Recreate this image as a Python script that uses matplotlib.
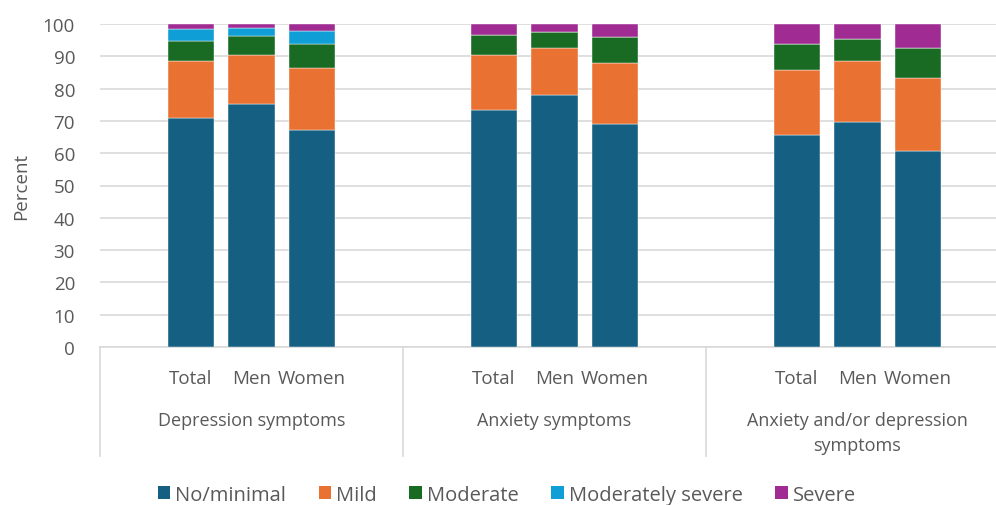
import matplotlib
matplotlib.use('Agg')
import matplotlib.pyplot as plt
from matplotlib.patches import Patch
from matplotlib.lines import Line2D

plt.rcParams['font.family'] = ['Open Sans', 'DejaVu Sans']

groups = ['Depression symptoms', 'Anxiety symptoms', 'Anxiety and/or depression\nsymptoms']
subgroups = ['Total', 'Men', 'Women']
levels = ['No/minimal', 'Mild', 'Moderate', 'Moderately severe', 'Severe']
colors = ['#156082', '#E97132', '#196B24', '#0F9ED5', '#A02B93']

# percent in each level, order: Total, Men, Women for each group
no_minimal = [71.0, 75.3, 67.3, 73.5, 78.1, 68.9, 65.6, 69.8, 60.7]
mild = [17.5, 15.2, 19.0, 17.0, 14.4, 19.1, 20.3, 18.6, 22.7]
moderate = [6.1, 5.8, 7.5, 6.0, 5.0, 7.9, 7.8, 7.1, 9.1]
mod_severe = [3.8, 2.5, 4.1, 0, 0, 0, 0, 0, 0]
severe = [1.6, 1.2, 2.1, 3.5, 2.5, 4.1, 6.3, 4.5, 7.5]

series = [no_minimal, mild, moderate, mod_severe, severe]

# 5 slots per group: blank, Total, Men, Women, blank
xpos = [5 * g + 1 + i for g in range(len(groups)) for i in range(len(subgroups))]

fig = plt.figure(figsize=(9.96, 5.06), dpi=100)
ax = fig.add_axes([100 / 996, 1 - 348 / 506, 909 / 996, 323 / 506])

bottom = [0] * len(xpos)
for vals, col in zip(series, colors):
    ax.bar(xpos, vals, bottom=bottom, width=0.77, color=col, edgecolor='white', linewidth=0.3, zorder=3)
    bottom = [b + v for b, v in zip(bottom, vals)]

ax.set_xlim(-0.5, 5 * len(groups) - 0.5)
ax.set_ylim(0, 100)
ax.set_yticks(range(0, 101, 10))
ax.yaxis.grid(True, color='#D9D9D9', linewidth=1.2, zorder=0)
ax.tick_params(axis='y', length=0, pad=18, labelsize=13.5, labelcolor='#595959')
ax.set_xticks([])
for s in ['top', 'right', 'left']:
    ax.spines[s].set_visible(False)
ax.spines['bottom'].set_color('#D9D9D9')
ax.spines['bottom'].set_linewidth(1.2)
ax.set_ylabel('Percent', fontsize=13.5, color='#595959', labelpad=9)

# two-level category axis
trans = ax.get_xaxis_transform()
for x, lab in zip(xpos, subgroups * len(groups)):
    ax.text(x, -0.097, lab, transform=trans, ha='center', va='center', fontsize=13.5, color='#595959')
for g, lab in enumerate(groups):
    for k, line in enumerate(lab.split('\n')):
        ax.text(5 * g + 2, -0.225 - 0.077 * k, line, transform=trans, ha='center', va='center',
                fontsize=13, color='#595959')
for g in range(len(groups) + 1):
    ax.add_line(Line2D([5 * g - 0.5] * 2, [0, -0.337], transform=trans, color='#D9D9D9',
                       linewidth=1.2, clip_on=False))

handles = [Patch(facecolor=c, edgecolor='none') for c in colors]
fig.legend(handles, levels, loc='center', bbox_to_anchor=(0.509, 0.02), ncol=5, frameon=False,
           fontsize=14.5, labelcolor='#595959', handlelength=0.64, handleheight=0.64,
           handletextpad=0.25, columnspacing=1.6)

fig.savefig('out.png', dpi=100)
